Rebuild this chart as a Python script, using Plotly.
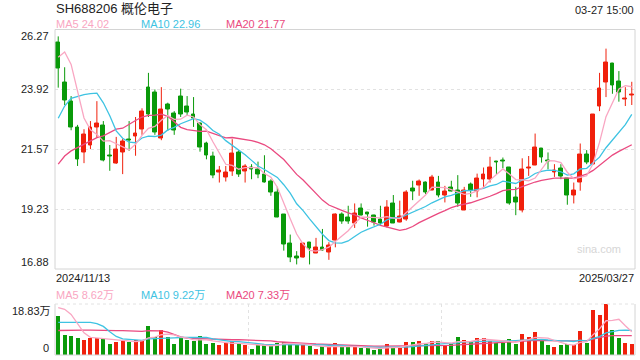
import plotly.graph_objects as go

# ---------------- data ----------------
title_text = "SH688206 概伦电子"
time_text = "03-27 15:00"
start_date = "2024/11/13"
end_date = "2025/03/27"
price_ticks = [26.27, 23.92, 21.57, 19.23, 16.88]
vol_ticks = ["18.83万", "0"]
vol_max = 18.83
ma_price_labels = ["MA5 24.02", "MA10 22.96", "MA20 21.77"]
ma_vol_labels = ["MA5 8.62万", "MA10 9.22万", "MA20 7.33万"]

opens = [25.78, 24.18, 23.46, 22.42, 21.44, 21.73, 22.42, 22.50, 21.31, 21.02,
         21.46, 21.95, 22.08, 22.36, 23.99, 23.79, 22.01, 23.33, 22.97, 23.66,
         23.24, 22.92, 22.58, 21.80, 21.31, 20.66, 20.47, 20.70, 21.45, 20.70,
         20.86, 20.78, 20.60, 20.31, 19.88, 19.00, 17.89, 17.37, 17.32, 17.93,
         17.50, 17.71, 17.54, 17.99, 19.01, 18.91, 18.65, 19.26, 19.10, 18.97,
         18.84, 18.55, 19.43, 18.71, 18.84, 20.04, 20.17, 20.27, 19.97, 20.27,
         19.75, 20.08, 19.95, 19.19, 20.18, 19.91, 20.40, 20.40, 21.09, 21.15,
         20.86, 19.69, 19.19, 20.83, 20.95, 21.60, 21.15, 20.66, 20.82, 20.44,
         19.78, 20.27, 21.38, 20.99, 23.24, 24.18, 24.92, 24.22, 23.52, 23.69]
highs = [26.00, 24.79, 23.66, 22.53, 22.36, 22.68, 23.46, 22.68, 21.74, 22.06,
         21.99, 22.68, 22.84, 23.18, 24.57, 23.92, 24.01, 23.40, 23.07, 23.95,
         23.66, 23.62, 22.62, 21.87, 21.48, 20.92, 20.92, 21.97, 21.54, 20.99,
         20.99, 21.09, 21.34, 20.40, 20.10, 19.00, 18.23, 17.58, 17.89, 17.93,
         18.10, 18.45, 17.93, 19.06, 19.10, 19.36, 19.45, 19.45, 19.10, 19.01,
         19.36, 19.58, 19.78, 19.56, 19.97, 20.34, 20.39, 20.31, 20.57, 20.53,
         20.14, 20.34, 20.56, 20.10, 20.27, 20.62, 20.86, 21.28, 21.09, 21.25,
         20.88, 20.10, 21.22, 21.31, 22.19, 21.60, 21.45, 20.99, 20.99, 20.44,
         20.27, 21.80, 21.54, 22.92, 24.57, 25.52, 24.96, 24.64, 24.01, 24.22]
lows = [23.99, 23.31, 22.32, 20.92, 21.03, 21.58, 22.03, 21.10, 20.73, 21.00,
        20.60, 21.51, 21.32, 22.14, 22.84, 22.14, 21.93, 22.29, 22.14, 22.84,
        22.92, 22.45, 21.48, 21.18, 20.44, 20.27, 20.31, 20.53, 20.49, 20.27,
        20.40, 20.44, 20.27, 19.75, 18.91, 17.60, 17.15, 17.06, 17.32, 17.06,
        17.50, 17.60, 17.24, 17.73, 18.65, 18.65, 18.49, 18.98, 18.54, 18.58,
        18.58, 18.51, 18.68, 18.71, 18.77, 19.58, 19.75, 19.82, 19.97, 19.69,
        19.49, 19.92, 19.32, 19.19, 19.71, 19.69, 20.08, 20.27, 20.60, 20.83,
        19.40, 18.99, 19.10, 20.53, 20.95, 21.05, 20.79, 20.49, 20.40, 19.40,
        19.45, 19.95, 20.99, 20.99, 23.07, 23.62, 23.75, 23.44, 23.27, 23.31]
closes = [24.74, 23.49, 22.42, 21.19, 22.16, 22.42, 22.58, 21.12, 21.29, 21.55,
          21.86, 21.93, 22.21, 23.05, 22.92, 22.23, 23.14, 23.14, 22.32, 22.94,
          23.01, 22.79, 21.64, 21.34, 20.56, 20.74, 20.65, 21.41, 20.60, 20.88,
          20.78, 20.60, 20.27, 19.88, 18.91, 17.86, 17.32, 17.29, 17.89, 17.67,
          17.73, 17.60, 17.80, 19.00, 18.75, 18.75, 19.06, 18.98, 19.01, 18.71,
          18.67, 19.30, 18.68, 18.93, 19.88, 19.92, 20.31, 19.88, 20.47, 19.78,
          19.92, 19.92, 19.43, 19.97, 19.97, 20.43, 20.60, 20.86, 21.05, 21.08,
          19.45, 19.49, 20.79, 20.86, 21.64, 21.25, 21.10, 20.75, 20.52, 19.75,
          19.97, 21.38, 21.05, 22.92, 23.95, 24.96, 24.09, 23.79, 23.57, 23.72]
volumes = [14.5, 7.43, 7.06, 6.32, 5.58, 6.32, 6.32, 6.07, 4.09, 4.96,
           5.20, 4.83, 5.45, 5.45, 10.66, 6.69, 9.17, 6.69, 4.09, 6.32,
           5.45, 5.20, 6.94, 4.21, 4.46, 3.59, 4.46, 4.83, 4.21, 3.59,
           2.11, 3.59, 4.21, 3.59, 4.46, 4.96, 4.21, 3.59, 3.59, 3.22,
           2.23, 3.22, 2.97, 4.34, 2.85, 2.85, 2.85, 2.48, 2.48, 1.73,
           2.48, 3.96, 3.10, 2.73, 4.71, 4.71, 5.08, 3.96, 5.08, 5.08,
           3.72, 4.21, 6.57, 5.45, 4.96, 6.20, 6.20, 5.33, 4.46, 4.46,
           5.82, 3.96, 7.68, 6.57, 8.43, 5.08, 3.59, 3.10, 3.59, 4.21,
           3.72, 8.80, 4.34, 16.5, 14.8, 18.83, 9.40, 6.40, 4.50, 3.90]
# closes / volumes of the 19 sessions before the visible window (for moving averages)
prior_closes = [17.09, 18.42, 18.59, 19.56, 19.82, 19.98, 19.72, 18.69, 18.95, 21.08,
                18.69, 19.42, 20.29, 21.56, 22.04, 22.44, 24.87, 26.35, 27.50]
prior_volumes = [5.5, 6.0, 6.5, 5.8, 6.2, 6.0, 6.4, 5.9, 6.3, 6.3,
                 7.4, 7.1, 6.3, 5.6, 6.3, 10.4, 16.6, 24.0, 21.9]

# ---------------- styling ----------------
RED = "#f0200c"
GREEN = "#0a9a0a"
C_MA5 = "#f9a6c2"
C_MA10 = "#3ec3e2"
C_MA20 = "#ea4a80"
GRID = "#e2e2e2"
BORDER = "#d4d4d4"
FONT = "Liberation Sans, Arial, Noto Sans CJK SC, sans-serif"
W, H = 640, 360
PL, PR = 55, 635
MAIN_T, MAIN_B = 29.5, 269
VOL_T, VOL_B = 304, 355


def px(x):
    return x / W


def py(y):
    return 1 - y / H


def moving_avg(prior, vals, n):
    allv = list(prior) + list(vals)
    off = len(prior)
    return [sum(allv[off + i - n + 1: off + i + 1]) / n for i in range(len(vals))]


n = len(closes)
idx = list(range(n))
up = [c >= o for o, c in zip(opens, closes)]

fig = go.Figure()

# candle wicks
for flag, col in ((True, RED), (False, GREEN)):
    xs, ys = [], []
    for i in idx:
        if up[i] == flag:
            xs += [i, i, None]
            ys += [lows[i], highs[i], None]
    fig.add_trace(go.Scatter(x=xs, y=ys, mode="lines", line=dict(color=col, width=1),
                             hoverinfo="skip", xaxis="x", yaxis="y"))

# candle bodies
for flag, col in ((True, RED), (False, GREEN)):
    xs, bases, hs = [], [], []
    for i in idx:
        if up[i] == flag:
            xs.append(i)
            lo_, hi_ = min(opens[i], closes[i]), max(opens[i], closes[i])
            bases.append(lo_)
            hs.append(max(hi_ - lo_, 0.03))
    fig.add_trace(go.Bar(x=xs, y=hs, base=bases, width=0.58,
                         marker=dict(color=col, line=dict(color=col, width=1)),
                         xaxis="x", yaxis="y"))

# price moving averages
for n_, col in ((20, C_MA20), (10, C_MA10), (5, C_MA5)):
    fig.add_trace(go.Scatter(x=idx, y=moving_avg(prior_closes, closes, n_), mode="lines",
                             line=dict(color=col, width=1.3), xaxis="x", yaxis="y"))

# volume bars
fig.add_trace(go.Bar(x=idx, y=volumes, width=0.62,
                     marker=dict(color=[RED if u else GREEN for u in up], line=dict(width=0)),
                     xaxis="x2", yaxis="y2"))

for n_, col in ((20, C_MA20), (10, C_MA10), (5, C_MA5)):
    fig.add_trace(go.Scatter(x=idx, y=moving_avg(prior_volumes, volumes, n_), mode="lines",
                             line=dict(color=col, width=1.3), xaxis="x2", yaxis="y2"))

xdom = [px(PL), px(PR)]
fig.update_layout(
    width=W, height=H, margin=dict(l=0, r=0, t=0, b=0),
    paper_bgcolor="white", plot_bgcolor="white",
    showlegend=False, barmode="overlay", bargap=0,
    font=dict(family=FONT, size=11, color="#222"),
    xaxis=dict(domain=xdom, range=[-0.5, n - 0.5], showgrid=False, zeroline=False,
               showticklabels=False, ticks="", anchor="y"),
    yaxis=dict(domain=[py(MAIN_B), py(MAIN_T)], range=[price_ticks[-1], price_ticks[0]],
               tickvals=price_ticks[1:-1], showticklabels=False, ticks="",
               showgrid=True, gridcolor=GRID, griddash="dot", gridwidth=1, zeroline=False,
               anchor="x"),
    xaxis2=dict(domain=xdom, range=[-0.5, n - 0.5], tickvals=[(n) / 3 - 0.5, 2 * n / 3 - 0.5],
                showgrid=True, gridcolor=GRID, griddash="dot", gridwidth=1,
                zeroline=False, showticklabels=False, ticks="", anchor="y2"),
    yaxis2=dict(domain=[py(VOL_B), py(VOL_T)], range=[0, vol_max], showgrid=False,
                zeroline=False, showticklabels=False, ticks="", anchor="x2"),
)

shapes = [
    dict(type="rect", xref="x domain", yref="y domain", x0=0, x1=1, y0=0, y1=1,
         line=dict(color=BORDER, width=1)),
    dict(type="line", xref="x2 domain", yref="y2 domain", x0=0, x1=0, y0=0, y1=1,
         line=dict(color=BORDER, width=1)),
    dict(type="line", xref="x2 domain", yref="y2 domain", x0=1, x1=1, y0=0, y1=1,
         line=dict(color=BORDER, width=1)),
    dict(type="line", xref="x2 domain", yref="y2 domain", x0=0, x1=1, y0=0, y1=0,
         line=dict(color=BORDER, width=1)),
    dict(type="line", xref="x2 domain", yref="y2 domain", x0=0, x1=1, y0=1, y1=1,
         line=dict(color=GRID, width=1, dash="dot")),
]
fig.update_layout(shapes=shapes)

ann = []


def add_text(text, x, y, xanchor="left", yanchor="middle", size=11, color="#222"):
    ann.append(dict(text=text, x=px(x), y=py(y), xref="paper", yref="paper",
                    xanchor=xanchor, yanchor=yanchor, showarrow=False,
                    font=dict(size=size, color=color, family=FONT)))


add_text(title_text, PL - 1, 8, size=13)
add_text(time_text, PR + 1, 10, xanchor="right")
for lbl, xx, col in zip(ma_price_labels, (PL, 140, 225), (C_MA5, C_MA10, C_MA20)):
    add_text(lbl, xx - 1, 24, color=col)
for lbl, xx, col in zip(ma_vol_labels, (PL, 140, 225), (C_MA5, C_MA10, C_MA20)):
    add_text(lbl, xx - 1, 295, color=col)

# price axis labels
yr = price_ticks[0] - price_ticks[-1]
for i, v in enumerate(price_ticks):
    ypix = MAIN_T + (price_ticks[0] - v) / yr * (MAIN_B - MAIN_T)
    if i == 0:
        add_text(f"{v:.2f}", 51, ypix - 1, xanchor="right", yanchor="top")
    elif i == len(price_ticks) - 1:
        add_text(f"{v:.2f}", 51, ypix + 1, xanchor="right", yanchor="bottom")
    else:
        add_text(f"{v:.2f}", 51, ypix, xanchor="right")

add_text(vol_ticks[0], 53, VOL_T - 1, xanchor="right", yanchor="top")
add_text(vol_ticks[1], 51, VOL_B + 1, xanchor="right", yanchor="bottom")

add_text(start_date, PL - 1, 278)
add_text(end_date, PR + 1, 278, xanchor="right")
add_text("sina.com", 623, 249, xanchor="right", size=11, color="#d6d6d6")

fig.update_layout(annotations=ann)
fig.write_html("out.html")
